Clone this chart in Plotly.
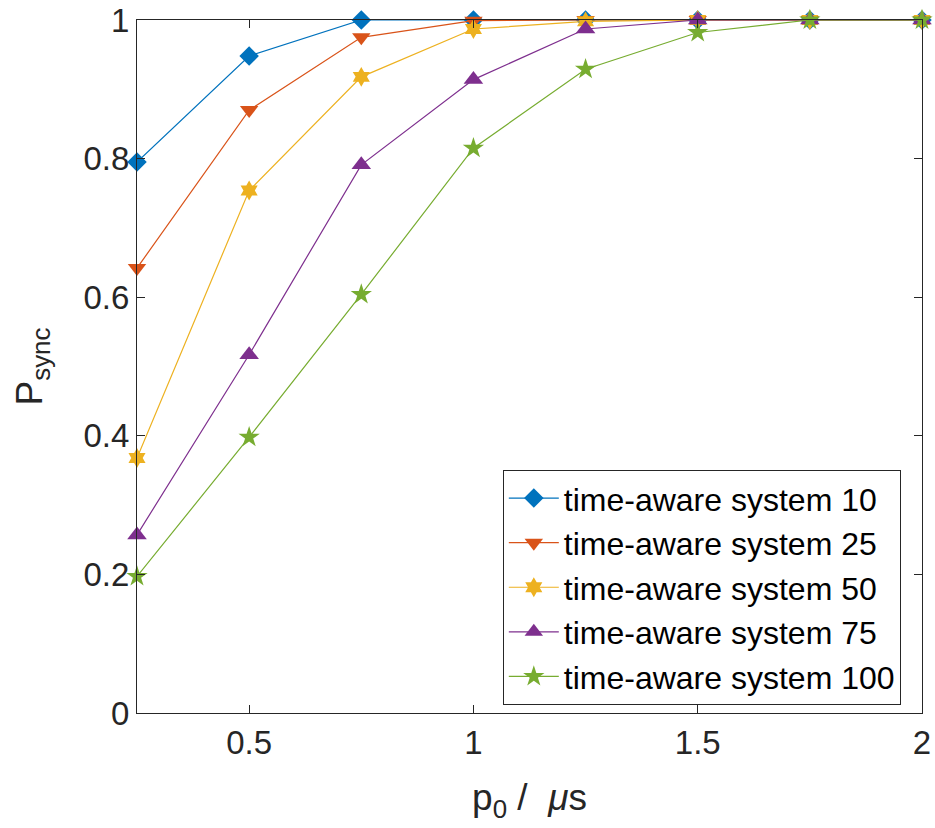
import plotly.graph_objects as go

x_vals = [0.25, 0.5, 0.75, 1.0, 1.25, 1.5, 1.75, 2.0]

p_sync_10 = [0.795, 0.948, 1.0, 1.0, 1.0, 1.0, 1.0, 1.0]
p_sync_25 = [0.642, 0.870, 0.975, 0.999, 1.0, 1.0, 1.0, 1.0]
p_sync_50 = [0.368, 0.754, 0.918, 0.987, 0.998, 1.0, 1.0, 1.0]
p_sync_75 = [0.257, 0.517, 0.791, 0.914, 0.987, 1.0, 1.0, 1.0]
p_sync_100 = [0.197, 0.398, 0.604, 0.815, 0.929, 0.982, 1.0, 1.0]

series_names = ["time-aware system 10", "time-aware system 25", "time-aware system 50",
                "time-aware system 75", "time-aware system 100"]
series_values = [p_sync_10, p_sync_25, p_sync_50, p_sync_75, p_sync_100]
colors = ["#0072BD", "#D95319", "#EDB120", "#7E2F8E", "#77AC30"]
symbols = ["diamond", "triangle-down", "hexagram", "triangle-up", "star"]
sizes = [15, 16, 15, 17, 16]

x_tickvals = [0.5, 1, 1.5, 2]
x_ticktext = ["0.5", "1", "1.5", "2"]
y_tickvals = [0, 0.2, 0.4, 0.6, 0.8, 1]
y_ticktext = ["0", "0.2", "0.4", "0.6", "0.8", "1"]

fig = go.Figure()
for name, vals, c, s, sz in zip(series_names, series_values, colors, symbols, sizes):
    fig.add_trace(go.Scatter(
        x=x_vals, y=vals, name=name, mode="lines+markers",
        line=dict(color=c, width=1.2),
        marker=dict(symbol=s, size=sz, color=c, line=dict(width=0)),
        cliponaxis=False,
    ))

axis_color = "#262626"
fig.update_layout(
    width=935, height=828,
    margin=dict(l=137, r=13, t=20, b=115),
    paper_bgcolor="white", plot_bgcolor="white",
    font=dict(family="Liberation Sans, Arial, sans-serif", color=axis_color, size=33),
    showlegend=True,
    legend=dict(
        x=0.466, y=0.351, xanchor="left", yanchor="top",
        bgcolor="white", bordercolor=axis_color, borderwidth=1,
        font=dict(size=32, color="black"),
        tracegroupgap=0, itemwidth=50,
    ),
)
fig.update_xaxes(
    range=[0.25, 2], tickvals=x_tickvals, ticktext=x_ticktext,
    showgrid=False, zeroline=False, automargin=False,
    showline=True, linecolor=axis_color, linewidth=1, mirror="allticks",
    ticks="inside", ticklen=8, tickcolor=axis_color,
    tickfont=dict(size=33),
    title=dict(text="p<sub>0</sub> / \u00a0<i>μ</i>s", font=dict(size=37), standoff=24),
)
fig.update_yaxes(
    range=[0, 1], tickvals=y_tickvals, ticktext=y_ticktext,
    showgrid=False, zeroline=False, automargin=False,
    showline=True, linecolor=axis_color, linewidth=1, mirror="allticks",
    ticks="inside", ticklen=8, tickcolor=axis_color,
    tickfont=dict(size=33),
    title=dict(text="P<sub>sync</sub>", font=dict(size=37), standoff=29),
)

fig.write_html("out.html")
